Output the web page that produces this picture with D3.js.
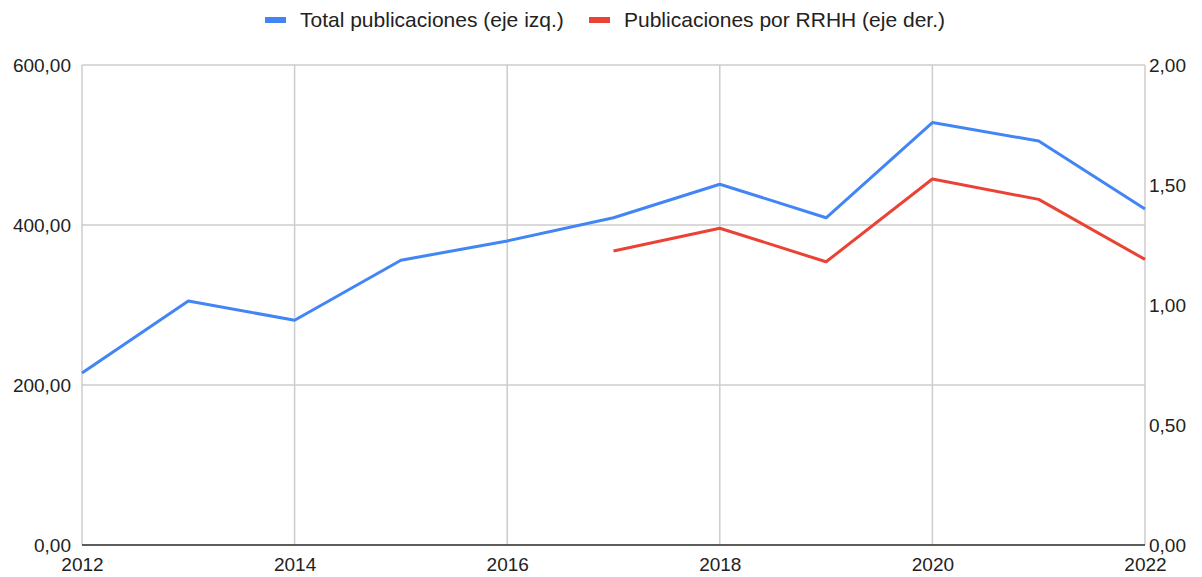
<!DOCTYPE html>
<html>
<head>
    <meta charset="utf-8">
    <script src="https://d3js.org/d3.v7.min.js"></script>
    <style>
        body { margin: 0; background: #ffffff; font-family: 'Liberation Sans', Arial, sans-serif; }
    </style>
</head>
<body>
    <svg id="chart" width="1202" height="577"></svg>
    <script>
        // data
        var years = [2012, 2013, 2014, 2015, 2016, 2017, 2018, 2019, 2020, 2021, 2022];
        var totalPubs = [215, 305, 281, 356, 380, 409, 451, 409, 528, 505, 420];
        var pubsPerHR = [null, null, null, null, null, 1.225, 1.32, 1.18, 1.525, 1.44, 1.19];
        var leftTicks = [0, 200, 400, 600];
        var rightTicks = [0, 0.5, 1, 1.5, 2];
        var xTicks = [2012, 2014, 2016, 2018, 2020, 2022];
        var seriesNames = ["Total publicaciones (eje izq.)", "Publicaciones por RRHH (eje der.)"];

        var blue = "#4285f4";
        var red = "#ea4335";

        var svg = d3.select("#chart");
        var plotLeft = 82, plotRight = 1145, plotTop = 65, plotBottom = 545;

        var x = d3.scaleLinear().domain([2012, 2022]).range([plotLeft, plotRight]);
        var yL = d3.scaleLinear().domain([0, 600]).range([plotBottom, plotTop]);
        var yR = d3.scaleLinear().domain([0, 2]).range([plotBottom, plotTop]);

        var fmt = function (d) { return d3.format(".2f")(d).replace(".", ","); };

        // gridlines
        svg.append("g").selectAll("line").data(leftTicks).enter().append("line")
            .attr("x1", plotLeft).attr("x2", plotRight)
            .attr("y1", function (d) { return yL(d); })
            .attr("y2", function (d) { return yL(d); })
            .style("stroke", "#cccccc").style("stroke-width", 1.5);

        svg.append("g").selectAll("line").data(xTicks).enter().append("line")
            .attr("x1", function (d) { return x(d); })
            .attr("x2", function (d) { return x(d); })
            .attr("y1", plotTop).attr("y2", plotBottom)
            .style("stroke", "#cccccc").style("stroke-width", 1.5);

        // baseline
        svg.append("line")
            .attr("x1", plotLeft).attr("x2", plotRight)
            .attr("y1", plotBottom).attr("y2", plotBottom)
            .style("stroke", "#333333").style("stroke-width", 1.5);

        // axes text
        var leftAxis = d3.axisLeft(yL).tickValues(leftTicks).tickFormat(fmt).tickSize(0).tickPadding(11);
        var rightAxis = d3.axisRight(yR).tickValues(rightTicks).tickFormat(fmt).tickSize(0).tickPadding(4);
        var bottomAxis = d3.axisBottom(x).tickValues(xTicks).tickFormat(d3.format("d")).tickSize(0).tickPadding(13);

        svg.append("g").attr("transform", "translate(" + plotLeft + ",0)").call(leftAxis);
        svg.append("g").attr("transform", "translate(" + plotRight + ",0)").call(rightAxis);
        svg.append("g").attr("transform", "translate(0," + plotBottom + ")").call(bottomAxis);

        svg.selectAll(".domain").remove();
        svg.selectAll(".tick text")
            .style("font-family", "'Liberation Sans', Arial, sans-serif")
            .style("font-size", "19px")
            .style("fill", "#222222");

        // lines
        var lineL = d3.line()
            .defined(function (d) { return d != null; })
            .x(function (d, i) { return x(years[i]); })
            .y(function (d) { return yL(d); });
        var lineR = d3.line()
            .defined(function (d) { return d != null; })
            .x(function (d, i) { return x(years[i]); })
            .y(function (d) { return yR(d); });

        svg.append("path").datum(totalPubs)
            .attr("d", lineL)
            .style("fill", "none").style("stroke", blue).style("stroke-width", 3)
            .style("stroke-linejoin", "round");
        svg.append("path").datum(pubsPerHR)
            .attr("d", lineR)
            .style("fill", "none").style("stroke", red).style("stroke-width", 3)
            .style("stroke-linejoin", "round");

        // legend
        var legend = svg.append("g");
        var items = [
            { name: seriesNames[0], color: blue, x: 265 },
            { name: seriesNames[1], color: red, x: 589 }
        ];
        items.forEach(function (it) {
            legend.append("rect")
                .attr("x", it.x).attr("y", 17)
                .attr("width", 21).attr("height", 6)
                .style("fill", it.color);
            legend.append("text")
                .attr("x", it.x + 35).attr("y", 27)
                .style("font-size", "21px")
                .style("fill", "#222222")
                .text(it.name);
        });
    </script>
</body>
</html>
